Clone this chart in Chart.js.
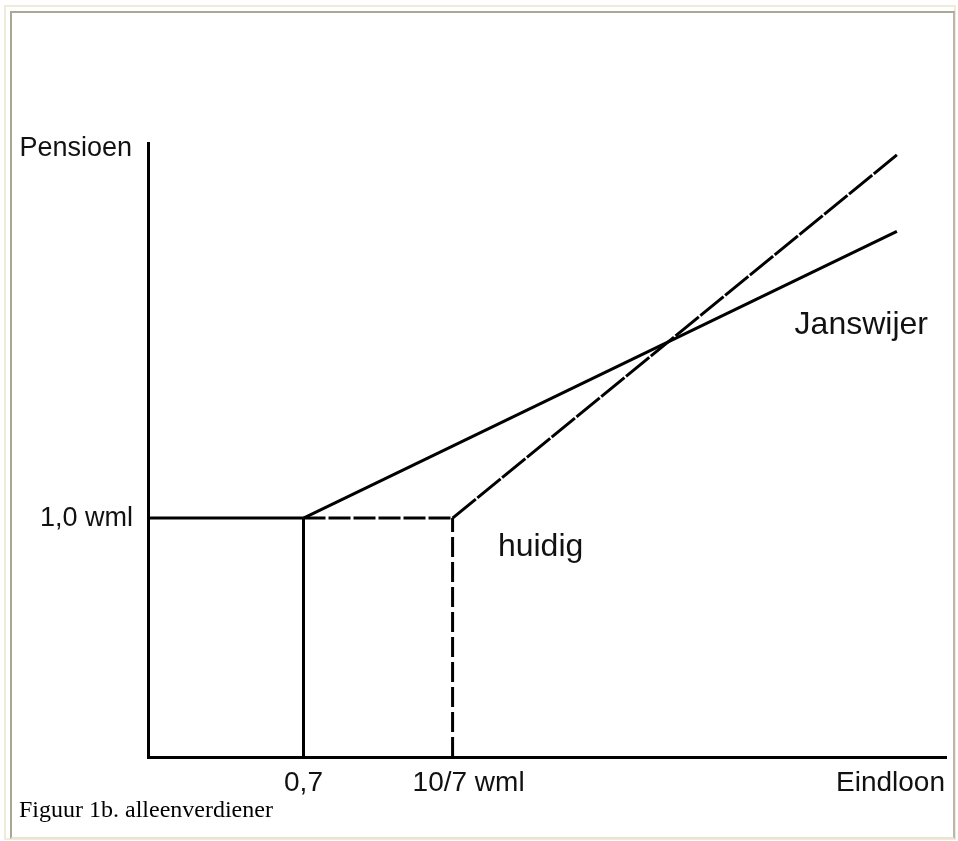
<!DOCTYPE html>
<html>
<head>
<meta charset="utf-8">
<script src="https://cdn.jsdelivr.net/npm/chart.js@4/dist/chart.umd.min.js"></script>
<style>
  html, body { margin: 0; padding: 0; background: #ffffff; }
  body { width: 958px; height: 841px; position: relative; overflow: hidden; }
  #outer { position: absolute; left: 4px; top: 5px; width: 948px; height: 831px; border: 2px solid #eeebdb; }
  #inner { position: absolute; left: 10px; top: 11px; width: 941px; height: 824px; border: 2px solid #a9a897; border-right-color: #b9b8a8; border-bottom-color: #e8e5d4; }
  #wrap { position: absolute; left: 0; top: 0; width: 958px; height: 841px; }
  #caption { position: absolute; left: 19px; top: 796px; font-family: "Liberation Serif", "Times New Roman", serif; font-size: 24px; color: #000; white-space: nowrap; }
</style>
</head>
<body>
<div id="outer"></div>
<div id="inner"></div>
<div id="wrap"><canvas id="c" width="958" height="841"></canvas></div>
<div id="caption">Figuur 1b. alleenverdiener</div>
<script>
// ---- data ----
const xRange = [-0.06, 3.84];          // Eindloon axis extent (wml)
const yRange = [0, 2.57];              // Pensioen axis extent (wml)
const xTickValues = [0.7, 10 / 7];     // marked incomes
const xTickLabels = ["0,7", "10/7 wml"];
const yTickValues = [1.0];
const yTickLabels = ["1,0 wml"];
const axisTitles = { x: "Eindloon", y: "Pensioen" };

const baseX = [-0.06, 0.7];            // common minimum pension
const baseY = [1.0, 1.0];
const huidigX = [0.7, 10 / 7, 3.6];    // current scheme
const huidigY = [1.0, 1.0, 2.52];
const janswijerX = [0.7, 3.6];         // Janswijer proposal
const janswijerY = [1.0, 2.2];
const guide07X = [0.7, 0.7];
const guide07Y = [0, 1.0];
const guide107X = [10 / 7, 10 / 7];
const guide107Y = [0, 1.0];

const seriesLabels = { huidig: "huidig", janswijer: "Janswijer" };
const labelAnchors = { huidig: [1.65, 0.84], janswijer: [3.1, 1.77] };

function pts(xs, ys) { return xs.map((x, i) => ({ x: x, y: ys[i] })); }

const sans = '"Liberation Sans", Arial, Helvetica, sans-serif';

const textPlugin = {
  id: 'texts',
  afterDraw(chart) {
    const ctx = chart.ctx;
    const xs = chart.scales.x, ys = chart.scales.y;
    const area = chart.chartArea;
    ctx.save();
    ctx.fillStyle = '#111';
    // y axis title and tick
    ctx.font = '27px ' + sans;
    ctx.textAlign = 'right';
    ctx.textBaseline = 'middle';
    ctx.fillText(axisTitles.y, area.left - 16, area.top + 6);
    yTickValues.forEach((v, i) => {
      ctx.fillText(yTickLabels[i], area.left - 15, ys.getPixelForValue(v));
    });
    // x ticks
    ctx.font = '28px ' + sans;
    ctx.textBaseline = 'middle';
    const ty = area.bottom + 26;
    ctx.textAlign = 'center';
    ctx.fillText(xTickLabels[0], xs.getPixelForValue(xTickValues[0]), ty);
    ctx.textAlign = 'left';
    ctx.fillText(xTickLabels[1], xs.getPixelForValue(xTickValues[1]) - 40, ty);
    ctx.textAlign = 'right';
    ctx.fillText(axisTitles.x, area.right - 1, ty);
    // series labels
    ctx.font = '32px ' + sans;
    ctx.textAlign = 'left';
    ctx.textBaseline = 'alphabetic';
    ctx.fillText(seriesLabels.huidig, xs.getPixelForValue(labelAnchors.huidig[0]), ys.getPixelForValue(labelAnchors.huidig[1]));
    ctx.fillText(seriesLabels.janswijer, xs.getPixelForValue(labelAnchors.janswijer[0]), ys.getPixelForValue(labelAnchors.janswijer[1]));
    ctx.restore();
  }
};

const common = { borderColor: '#000', borderWidth: 3, pointRadius: 0, fill: false, tension: 0, borderCapStyle: 'butt' };

new Chart(document.getElementById('c'), {
  type: 'line',
  data: {
    datasets: [
      Object.assign({ label: 'basis', data: pts(baseX, baseY) }, common),
      Object.assign({ label: seriesLabels.janswijer, data: pts(janswijerX, janswijerY) }, common),
      Object.assign({ label: seriesLabels.huidig, data: pts(huidigX, huidigY),
        segment: { borderDash: (c) => c.p0DataIndex === 0 ? [22, 3] : [30, 2] } }, common),
      Object.assign({ label: 'guide07', data: pts(guide07X, guide07Y) }, common),
      Object.assign({ label: 'guide107', data: pts(guide107X, guide107Y), borderDash: [20, 5] }, common)
    ]
  },
  options: {
    responsive: false,
    animation: false,
    events: [],
    layout: { padding: { left: 148, top: 143, right: 12, bottom: 84 } },
    plugins: { legend: { display: false }, tooltip: { enabled: false } },
    scales: {
      x: {
        type: 'linear', min: xRange[0], max: xRange[1],
        grid: { display: false, drawTicks: false },
        border: { display: true, color: '#000', width: 3 },
        ticks: { display: false }
      },
      y: {
        type: 'linear', min: yRange[0], max: yRange[1],
        grid: { display: false, drawTicks: false },
        border: { display: true, color: '#000', width: 3 },
        ticks: { display: false }
      }
    }
  },
  plugins: [textPlugin]
});
</script>
</body>
</html>
